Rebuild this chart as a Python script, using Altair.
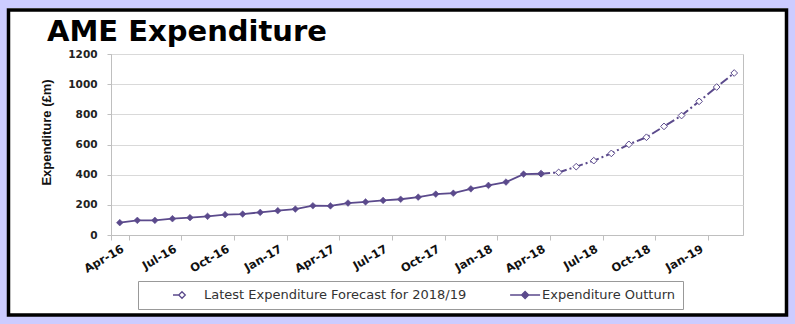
import altair as alt
import pandas as pd

months = ["Apr-16", "May-16", "Jun-16", "Jul-16", "Aug-16", "Sep-16", "Oct-16", "Nov-16", "Dec-16",
          "Jan-17", "Feb-17", "Mar-17", "Apr-17", "May-17", "Jun-17", "Jul-17", "Aug-17", "Sep-17",
          "Oct-17", "Nov-17", "Dec-17", "Jan-18", "Feb-18", "Mar-18", "Apr-18", "May-18", "Jun-18",
          "Jul-18", "Aug-18", "Sep-18", "Oct-18", "Nov-18", "Dec-18", "Jan-19", "Feb-19", "Mar-19"]
tick_labels = ["Apr-16", "Jul-16", "Oct-16", "Jan-17", "Apr-17", "Jul-17", "Oct-17", "Jan-18",
               "Apr-18", "Jul-18", "Oct-18", "Jan-19"]
outturn_months = months[:25]
outturn_values = [82, 97, 97, 108, 115, 124, 135, 139, 150, 161, 172, 194, 193, 212, 219, 229,
                  237, 251, 271, 277, 306, 329, 351, 404, 406]
forecast_months = months[24:]
forecast_values = [406, 415, 453, 493, 541, 601, 648, 720, 792, 886, 981, 1074]
y_ticks = [0, 200, 400, 600, 800, 1000, 1200]

TITLE = "AME Expenditure"
F_NAME = "Latest Expenditure Forecast for 2018/19"
O_NAME = "Expenditure Outturn"
series_names = [F_NAME, O_NAME]

PURPLE = "#5b4a8c"
GRID = "#d9d9d9"
FRAME = "#bfbfbf"
LAVENDER = "#ccccff"

df_out = pd.DataFrame({"month": outturn_months, "value": outturn_values})
df_fc = pd.DataFrame({"month": forecast_months, "value": forecast_values})
df_one = pd.DataFrame({"k": [0]})
df_leg = pd.DataFrame({"series": series_names})

x_enc = alt.X(
    "month:N", sort=months, title=None, bandPosition=0.5,
    scale=alt.Scale(type="band", domain=months, paddingInner=0, paddingOuter=0),
    axis=alt.Axis(values=tick_labels, tickBand="extent", labelAngle=-30, labelAlign="right",
                  labelBaseline="top", labelFont="DejaVu Sans", labelFontSize=11.5,
                  labelFontWeight="bold", labelColor="#111", tickSize=5, labelPadding=3,
                  tickColor=FRAME, domainColor=FRAME, grid=False, labelOverlap=False),
)
y_enc = alt.Y(
    "value:Q",
    scale=alt.Scale(domain=[0, 1200], nice=False),
    axis=alt.Axis(values=y_ticks, format="d", title="Expenditure (£m)", titleFont="Liberation Sans",
                  titleFontSize=13, titleFontWeight="bold", titleColor="#111",
                  titleX=-65, titleY=78, titleAngle=-90, titleAlign="center",
                  titleBaseline="middle", labelFont="DejaVu Sans", labelFontSize=10.5,
                  labelFontWeight="bold", labelColor="#222", tickSize=4, labelPadding=10,
                  tickColor=FRAME, domainColor=FRAME, gridColor=GRID),
)

lavender_border = alt.Chart(df_one).mark_rect(fill=None, stroke=LAVENDER, strokeWidth=16).encode(
    x=alt.value(-112), x2=alt.value(685), y=alt.value(-54), y2=alt.value(270)
)
black_border = alt.Chart(df_one).mark_rect(fill=None, stroke="black", strokeWidth=3.5).encode(
    x=alt.value(-102.5), x2=alt.value(675.5), y=alt.value(-44), y2=alt.value(261)
)
title_text = alt.Chart(df_one).mark_text(
    text=TITLE, font="DejaVu Sans", fontSize=29, fontWeight="bold", color="black",
    align="left", baseline="alphabetic"
).encode(x=alt.value(-64), y=alt.value(-13))

fc_line = alt.Chart(df_fc).mark_line(color=PURPLE, strokeWidth=2, strokeDash=[9, 3, 2, 3]).encode(
    x=x_enc, y=y_enc
)
fc_pts = alt.Chart(df_fc).mark_point(shape="diamond", filled=True, fill="white", stroke=PURPLE,
                                     strokeWidth=1, size=45, opacity=1).encode(x=x_enc, y=y_enc)
out_line = alt.Chart(df_out).mark_line(color=PURPLE, strokeWidth=1.8).encode(x=x_enc, y=y_enc)
out_pts = alt.Chart(df_out).mark_point(shape="diamond", filled=True, fill=PURPLE, stroke=PURPLE,
                                       strokeWidth=0.5, size=45, opacity=1).encode(x=x_enc, y=y_enc)

path_f = "M3.5,0H4.45M5.0,-0.55L5.55,0L5.0,0.55L4.45,0Z"
path_o = "M3.35,0H8.35M5.85,-0.6L6.45,0L5.85,0.6L5.25,0Z"

leg = alt.Legend(
    title=None, orient="none", legendX=27, legendY=227, direction="horizontal",
    fillColor="white", strokeColor="#999999", padding=7, symbolSize=144,
    symbolStrokeColor=PURPLE, symbolStrokeWidth=1.3, symbolOpacity=1,
    labelFont="DejaVu Sans", labelFontSize=13, labelColor="#333333", labelOffset=45,
    columnPadding=16, labelLimit=400,
)
legend_layer = alt.Chart(df_leg).transform_filter("false").mark_point(
    filled=False, opacity=1, strokeWidth=1.3
).encode(
    shape=alt.Shape("series:N", scale=alt.Scale(domain=series_names, range=[path_f, path_o]), legend=leg),
    fill=alt.Fill("series:N", scale=alt.Scale(domain=series_names, range=["white", PURPLE]), legend=leg),
    stroke=alt.Stroke("series:N", scale=alt.Scale(domain=series_names, range=[PURPLE, PURPLE]), legend=leg),
)

chart = alt.layer(
    lavender_border, black_border, title_text, fc_line, fc_pts, out_line, out_pts, legend_layer
).properties(
    width=632, height=181,
    padding={"left": 111, "top": 54, "right": 52, "bottom": 89},
    autosize=alt.AutoSizeParams(type="none"),
    background="white",
).configure_view(stroke=FRAME, strokeWidth=1)

chart.save("out.html", embed_options={"renderer": "svg", "actions": False})
